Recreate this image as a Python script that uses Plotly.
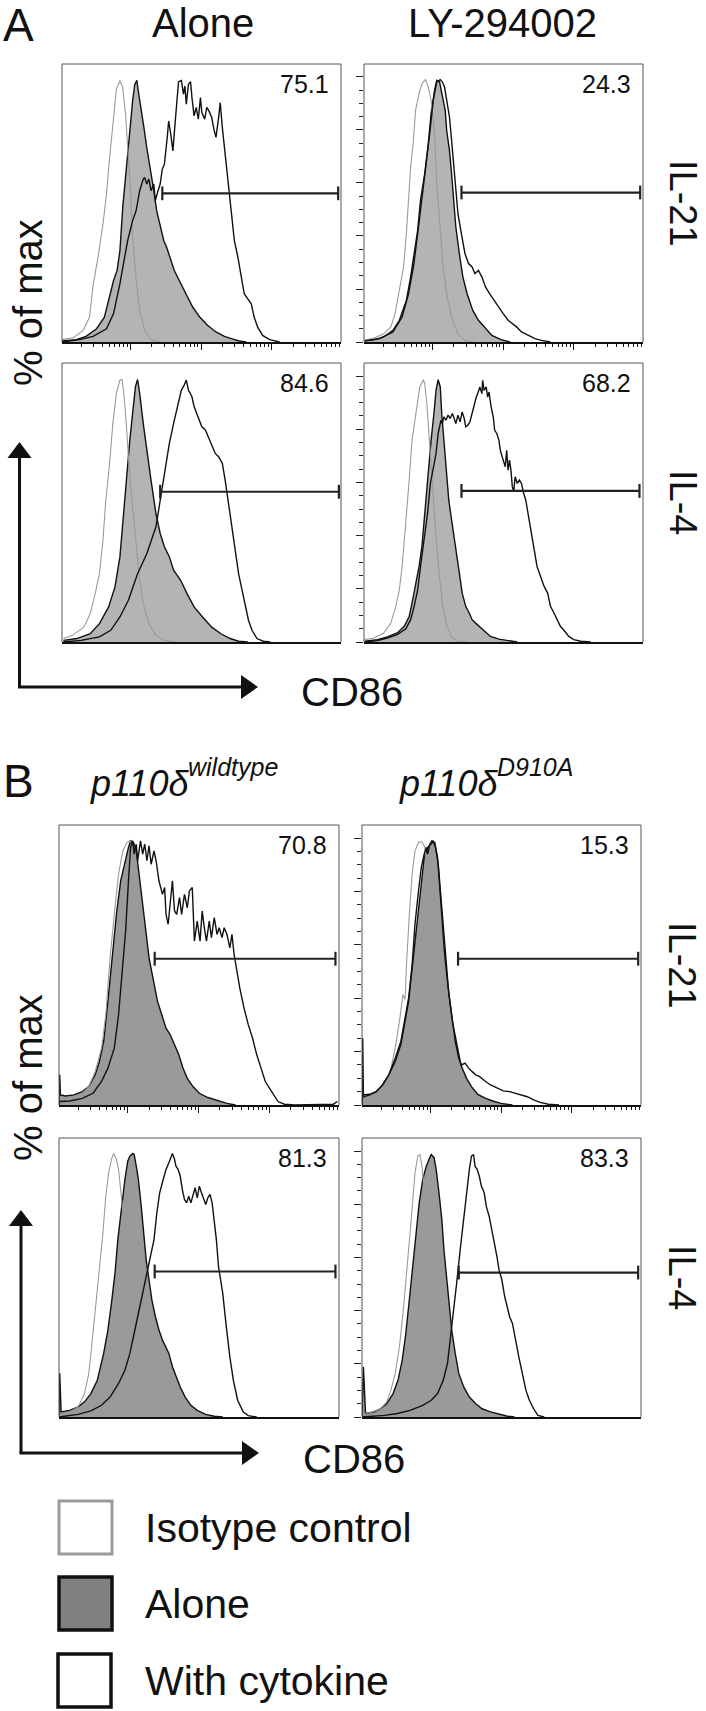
import plotly.graph_objects as go

W, H = 706, 1711

# ---------------- data: x = log10(CD86 intensity), y = % of max ----------------
# Panel A, IL-21, Alone
a1_iso_x = [1.03,1.19,1.33,1.42,1.47,1.54,1.61,1.66,1.70,1.75,1.80,1.85,1.89,1.93,1.96,2.00,2.03,2.08,2.13,2.20,2.29,2.41]
a1_iso_y = [0.9,1.6,4.4,9.4,21.3,32.0,44.5,55.8,68.4,83.4,95.4,98.7,96.0,85.9,73.4,57.1,39.5,23.2,11.9,4.4,0.9,0]
a1_alone_x = [1.03,1.23,1.37,1.52,1.63,1.70,1.76,1.81,1.85,1.89,1.93,1.96,2.00,2.03,2.06,2.09,2.11,2.15,2.19,2.23,2.28,2.33,2.37,2.42,2.47,2.51,2.56,2.62,2.69,2.79,2.88,2.98,3.09,3.21,3.33,3.45,3.54,3.64]
a1_alone_y = [0.4,0.9,2.1,5.0,9.4,16.9,23.2,27.0,34.5,50.8,62.1,72.1,82.2,91.0,97.2,98.7,94.7,88.5,80.9,73.4,65.9,57.1,49.6,43.3,38.3,35.8,32.0,27.0,23.2,17.6,13.2,9.4,6.3,3.8,2.1,1.1,0.4,0]
a1_cyt_x = [1.03,1.28,1.47,1.66,1.76,1.81,1.85,1.90,1.96,2.03,2.08,2.13,2.18,2.20,2.23,2.26,2.29,2.33,2.35,2.39,2.42,2.45,2.48,2.52,2.54,2.57,2.60,2.63,2.66,2.68,2.72,2.75,2.77,2.79,2.82,2.85,2.87,2.90,2.93,2.96,2.99,3.01,3.05,3.08,3.11,3.15,3.18,3.21,3.25,3.27,3.30,3.33,3.36,3.40,3.43,3.47,3.52,3.57,3.61,3.66,3.71,3.75,3.80,3.87,3.97,4.11]
a1_cyt_y = [0,0.9,2.1,5.0,10.7,16.3,22.0,29.5,38.3,45.8,49.6,57.1,61.5,62.1,59.6,61.5,57.1,59.6,53.3,57.1,59.6,65.2,67.1,77.2,83.4,78.4,72.1,82.2,92.2,98.2,98.7,93.5,96.6,89.7,97.2,98.2,92.2,85.3,88.5,84.1,92.2,86.6,84.1,88.5,87.2,84.7,80.3,77.2,85.3,90.3,80.9,73.4,64.6,55.8,45.8,38.3,32.0,24.5,18.2,16.3,14.4,9.4,5.6,2.5,0.9,0]

# Panel A, IL-21, LY-294002
a2_iso_x = [1.04,1.18,1.31,1.41,1.47,1.53,1.59,1.63,1.66,1.69,1.73,1.76,1.81,1.85,1.90,1.94,1.98,2.03,2.06,2.11,2.15,2.20,2.27,2.36,2.46,2.59]
a2_iso_y = [0.6,1.6,3.1,5.7,10.7,19.5,28.3,40.9,53.5,66.0,76.1,87.4,93.7,97.5,99.0,96.2,91.2,78.6,59.8,40.9,28.3,18.2,9.4,3.1,0.6,0]
a2_alone_x = [1.04,1.18,1.31,1.44,1.53,1.63,1.69,1.74,1.79,1.83,1.89,1.94,1.98,2.03,2.06,2.10,2.14,2.18,2.20,2.24,2.27,2.30,2.33,2.38,2.43,2.49,2.57,2.65,2.75,2.84,2.97,3.10]
a2_alone_y = [0.6,0.9,1.9,4.4,8.2,15.7,24.5,33.3,42.1,53.5,63.5,74.8,86.2,95.0,98.7,98.1,92.5,87.4,79.9,72.3,63.5,53.5,43.4,33.3,24.5,18.2,11.9,8.2,5.0,2.5,0.9,0]
a2_cyt_x = [1.04,1.25,1.44,1.57,1.66,1.73,1.79,1.85,1.92,1.96,2.01,2.06,2.11,2.14,2.17,2.20,2.24,2.27,2.30,2.33,2.36,2.40,2.43,2.46,2.51,2.56,2.60,2.65,2.70,2.75,2.81,2.87,2.94,3.00,3.07,3.13,3.19,3.26,3.35,3.45,3.54,3.67]
a2_cyt_y = [0.4,1.3,3.8,9.4,18.2,28.3,40.9,53.5,68.6,78.6,91.2,98.1,99.0,98.1,96.2,91.2,84.9,76.1,66.0,56.0,48.4,42.1,37.1,33.3,29.6,28.3,25.8,27.0,24.5,20.8,18.2,15.7,13.2,10.7,8.2,6.9,5.7,3.8,2.5,1.3,0.6,0]

# Panel A, IL-4, Alone
a3_iso_x = [1.05,1.18,1.34,1.43,1.50,1.56,1.61,1.65,1.70,1.75,1.80,1.85,1.88,1.91,1.94,1.97,2.02,2.07,2.12,2.18,2.26,2.36,2.48,2.64]
a3_iso_y = [1.3,2.5,5.6,10.7,18.2,25.7,38.3,53.3,65.9,82.2,93.5,98.5,98.7,92.2,82.2,69.6,53.3,38.3,25.7,14.4,6.9,2.5,0.6,0]
a3_alone_x = [1.05,1.24,1.43,1.56,1.69,1.78,1.85,1.89,1.94,1.99,2.04,2.07,2.10,2.13,2.18,2.23,2.29,2.36,2.42,2.48,2.55,2.61,2.71,2.80,2.90,3.02,3.15,3.28,3.41,3.53,3.66]
a3_alone_y = [0.6,1.3,3.1,6.9,13.2,20.7,32.0,44.5,60.9,75.9,88.5,96.0,98.7,93.5,82.2,72.1,60.9,48.3,40.8,35.8,32.0,27.0,23.2,18.2,13.2,9.4,5.6,3.1,1.3,0.3,0]
a3_cyt_x = [1.05,1.30,1.56,1.72,1.85,1.97,2.10,2.23,2.36,2.42,2.48,2.55,2.61,2.67,2.72,2.76,2.79,2.82,2.87,2.90,2.96,3.01,3.06,3.10,3.15,3.20,3.25,3.30,3.34,3.38,3.42,3.45,3.47,3.50,3.53,3.58,3.63,3.67,3.72,3.79,3.88,3.98]
a3_cyt_y = [0,0.6,1.9,4.4,9.4,15.7,25.7,33.2,43.3,53.3,63.4,74.7,82.2,89.7,94.7,96.6,98.5,94.7,92.2,88.5,84.7,80.9,79.7,77.2,74.7,70.9,69.6,67.1,60.9,53.3,45.8,40.8,35.8,30.7,25.7,19.4,13.2,8.2,4.4,1.3,0.3,0]

# Panel A, IL-4, LY-294002
a4_iso_x = [1.04,1.17,1.31,1.41,1.48,1.53,1.57,1.62,1.67,1.71,1.78,1.82,1.87,1.89,1.92,1.95,1.98,2.02,2.06,2.10,2.14,2.19,2.26,2.35,2.49]
a4_iso_y = [0.9,1.5,3.4,7.1,13.4,19.6,28.4,43.4,60.9,75.9,88.4,95.9,98.6,97.1,89.6,78.4,64.6,49.6,35.9,24.6,14.6,7.1,2.1,0.3,0]
a4_alone_x = [1.04,1.22,1.36,1.50,1.60,1.67,1.71,1.76,1.81,1.85,1.88,1.92,1.95,1.98,2.02,2.05,2.08,2.11,2.13,2.16,2.20,2.23,2.27,2.30,2.34,2.38,2.42,2.47,2.52,2.56,2.61,2.66,2.73,2.82,2.94,3.06,3.20]
a4_alone_y = [0.3,0.9,1.9,3.4,5.9,9.6,14.6,20.9,28.4,35.9,45.9,55.9,65.9,75.9,85.9,94.6,98.6,95.9,85.9,75.9,63.4,53.4,45.9,40.9,33.4,25.9,18.4,13.4,10.9,8.4,7.1,5.9,4.0,2.1,1.1,0.5,0]
a4_cyt_x = [1.04,1.22,1.36,1.50,1.62,1.69,1.74,1.79,1.83,1.88,1.93,1.97,2.02,2.05,2.08,2.12,2.14,2.16,2.19,2.22,2.25,2.28,2.30,2.33,2.36,2.39,2.42,2.45,2.47,2.50,2.53,2.56,2.59,2.62,2.64,2.67,2.70,2.71,2.73,2.76,2.78,2.80,2.83,2.86,2.88,2.91,2.94,2.96,3.00,3.03,3.05,3.07,3.09,3.11,3.13,3.15,3.17,3.20,3.23,3.26,3.29,3.32,3.36,3.40,3.44,3.48,3.53,3.58,3.63,3.67,3.72,3.77,3.81,3.86,3.93,4.00,4.10,4.24]
a4_cyt_y = [0,0.5,1.5,2.8,4.9,8.4,13.4,19.6,28.4,38.4,48.4,59.6,65.9,70.9,78.4,83.4,82.1,84.6,83.4,85.3,84.0,85.9,84.6,82.1,85.3,82.8,86.5,84.0,80.9,81.5,82.8,85.9,89.6,92.1,93.4,95.9,93.4,98.4,94.6,95.9,92.1,94.0,88.4,84.6,79.6,78.4,75.9,72.1,68.4,65.9,72.1,64.6,68.4,64.6,58.4,56.5,62.1,59.6,60.9,59.6,55.9,53.4,47.1,40.9,33.4,28.4,24.6,20.9,18.4,13.4,10.9,8.4,5.9,4.4,2.1,0.9,0.3,0]

# Panel B, IL-21, p110d wildtype
b1_iso_x = [1.04,1.12,1.24,1.36,1.45,1.54,1.63,1.69,1.75,1.81,1.87,1.93,1.99,2.03,2.07,2.11,2.15,2.20,2.25,2.30,2.34,2.39,2.45,2.53,2.65,2.80]
b1_iso_y = [2.5,2.8,3.1,4.4,6.9,12.5,21.3,33.8,55.1,71.4,86.5,95.2,98.4,99.0,97.7,90.2,80.2,67.7,52.6,37.6,23.8,13.8,6.3,1.9,0.3,0]
b1_alone_x = [1.03,1.04,1.05,1.12,1.24,1.36,1.45,1.54,1.60,1.66,1.72,1.78,1.84,1.90,1.96,2.01,2.04,2.08,2.12,2.15,2.20,2.25,2.30,2.36,2.42,2.48,2.54,2.60,2.66,2.72,2.78,2.84,2.92,3.01,3.13,3.28,3.40,3.52]
b1_alone_y = [0,11.3,3.8,3.4,3.8,5.0,6.9,11.3,16.3,23.8,38.8,56.4,71.4,84.0,91.5,96.5,99.0,98.4,95.2,89.0,78.9,66.4,55.1,46.4,38.8,33.8,28.8,26.3,22.6,18.8,13.8,10.0,6.9,4.4,2.8,1.5,0.6,0]
b1_cyt_x = [1.03,1.04,1.18,1.36,1.51,1.63,1.72,1.81,1.87,1.93,1.97,2.01,2.04,2.07,2.09,2.12,2.14,2.18,2.21,2.24,2.27,2.30,2.33,2.37,2.40,2.44,2.49,2.52,2.54,2.57,2.60,2.63,2.66,2.69,2.73,2.76,2.80,2.84,2.87,2.91,2.94,2.98,3.02,3.05,3.08,3.11,3.15,3.18,3.22,3.26,3.29,3.33,3.36,3.40,3.44,3.47,3.50,3.53,3.58,3.64,3.70,3.76,3.82,3.88,3.94,4.03,4.12,4.21,4.36,4.90,4.96]
b1_cyt_y = [0,1.3,1.5,2.5,4.4,8.8,13.8,21.3,33.8,52.6,65.2,84.0,96.5,99.0,94.0,97.7,91.5,99.0,94.0,97.7,91.5,97.1,90.2,95.2,91.5,84.0,78.9,81.5,71.4,67.7,76.4,84.0,72.7,71.4,77.7,71.4,78.9,73.9,80.2,81.5,61.4,68.9,61.4,72.7,66.4,61.4,68.9,62.7,70.2,63.9,66.4,62.7,66.4,63.9,58.9,63.9,56.4,51.4,43.9,36.3,30.1,25.1,18.8,13.8,8.8,5.0,1.3,0.3,0,0.3,1.3]

# Panel B, IL-21, p110d D910A
b2_iso_x = [1.05,1.17,1.29,1.38,1.44,1.50,1.56,1.61,1.64,1.66,1.70,1.74,1.78,1.83,1.88,1.92,1.95,2.00,2.05,2.10,2.14,2.19,2.25,2.32,2.43,2.55]
b2_iso_y = [1.3,2.5,5.0,8.8,13.8,21.3,31.3,41.4,39.5,52.6,71.4,86.5,95.2,98.4,98.6,96.5,90.2,77.7,61.4,43.9,28.8,17.5,8.8,3.1,0.6,0]
b2_alone_x = [1.03,1.04,1.05,1.14,1.23,1.32,1.41,1.50,1.58,1.64,1.69,1.72,1.77,1.82,1.87,1.91,1.96,2.00,2.04,2.07,2.11,2.14,2.18,2.22,2.26,2.31,2.37,2.43,2.51,2.58,2.67,2.78,2.88,3.00,3.16]
b2_alone_y = [0,25.1,3.1,3.8,5.0,7.5,11.3,16.3,22.6,31.3,38.8,46.4,58.9,71.4,84.0,92.7,96.5,97.7,98.7,96.5,90.2,80.2,67.7,53.9,41.4,31.3,22.6,15.0,10.0,6.9,4.0,2.5,1.5,0.6,0]
b2_cyt_x = [1.03,1.04,1.14,1.23,1.32,1.41,1.50,1.58,1.64,1.69,1.74,1.78,1.83,1.87,1.91,1.94,1.96,1.99,2.02,2.06,2.10,2.13,2.17,2.20,2.25,2.30,2.35,2.40,2.44,2.49,2.54,2.59,2.64,2.69,2.73,2.78,2.85,2.94,3.03,3.12,3.21,3.27,3.37,3.46,3.55,3.67,3.82]
b2_cyt_y = [0,3.8,4.0,5.0,7.5,11.3,17.5,23.8,32.6,40.1,52.6,67.7,80.2,89.0,94.0,96.5,94.0,97.7,99.0,98.4,92.7,81.5,68.9,56.4,43.9,33.8,23.8,17.5,15.0,15.7,13.8,12.5,11.3,10.7,10.0,8.8,7.5,6.3,5.3,5.0,4.4,3.8,3.1,1.9,1.0,0.3,0]

# Panel B, IL-4, p110d wildtype
b3_iso_x = [1.03,1.06,1.18,1.30,1.39,1.45,1.49,1.54,1.60,1.65,1.69,1.73,1.77,1.80,1.84,1.87,1.90,1.94,1.97,2.01,2.04,2.09,2.15,2.23,2.32,2.44,2.56]
b3_iso_y = [0,1.3,1.9,3.8,8.8,16.4,26.4,39.0,54.1,69.2,83.0,91.8,96.9,99.1,96.9,93.1,85.5,74.2,61.6,49.1,36.5,23.9,13.8,6.3,1.9,0.3,0]
b3_alone_x = [1.03,1.04,1.06,1.18,1.30,1.39,1.48,1.57,1.66,1.72,1.77,1.82,1.86,1.91,1.96,2.00,2.03,2.07,2.09,2.12,2.15,2.19,2.22,2.26,2.30,2.34,2.39,2.44,2.49,2.54,2.58,2.63,2.68,2.74,2.81,2.89,2.98,3.10,3.22,3.34]
b3_alone_y = [0,16.4,1.9,2.5,3.8,5.7,8.8,13.8,23.9,32.7,42.8,54.1,66.7,79.2,89.3,96.2,98.1,99.1,98.7,94.3,89.3,79.2,69.2,59.1,51.6,44.0,37.7,32.7,28.9,26.4,23.9,18.9,15.1,11.3,7.5,4.4,2.5,1.0,0.3,0]
b3_cyt_x = [1.03,1.12,1.30,1.48,1.63,1.75,1.87,1.96,2.03,2.09,2.15,2.20,2.25,2.30,2.33,2.37,2.41,2.45,2.50,2.54,2.58,2.61,2.63,2.66,2.68,2.71,2.74,2.77,2.80,2.83,2.86,2.89,2.92,2.95,2.98,3.01,3.04,3.07,3.10,3.13,3.16,3.19,3.22,3.25,3.28,3.31,3.34,3.39,3.44,3.49,3.55,3.63,3.70,3.82]
b3_cyt_y = [0,0.3,1.0,2.3,4.4,7.5,12.6,17.6,23.9,31.4,39.0,45.3,51.6,59.1,61.6,66.7,76.7,84.3,89.3,93.1,95.6,98.1,99.1,96.9,94.3,93.1,90.6,85.5,81.8,80.5,83.0,80.5,83.7,86.2,82.4,86.8,84.3,81.8,79.9,82.4,83.7,80.5,74.2,66.7,56.6,51.6,46.5,34.0,22.6,13.8,6.3,1.9,0.5,0]

# Panel B, IL-4, p110d D910A
b4_iso_x = [1.03,1.08,1.17,1.29,1.38,1.44,1.50,1.56,1.62,1.66,1.71,1.75,1.78,1.82,1.85,1.88,1.92,1.96,2.01,2.06,2.11,2.16,2.22,2.31,2.43,2.55]
b4_iso_y = [0,1.3,1.9,3.1,5.7,10.1,16.4,26.4,41.5,55.3,69.2,81.8,91.8,98.1,98.7,94.3,83.0,69.2,54.1,39.0,26.4,16.4,8.8,3.8,1.0,0]
b4_alone_x = [1.03,1.05,1.08,1.20,1.29,1.38,1.47,1.54,1.60,1.65,1.70,1.75,1.79,1.84,1.89,1.94,1.98,2.01,2.05,2.08,2.12,2.16,2.19,2.23,2.26,2.30,2.35,2.40,2.47,2.55,2.64,2.73,2.85,2.97,3.09,3.19]
b4_alone_y = [0,18.9,1.3,1.9,3.1,5.0,8.8,13.8,21.4,31.4,44.0,56.6,69.2,80.5,89.3,94.3,96.9,98.7,97.5,93.1,84.3,74.2,62.9,51.6,41.5,32.7,23.9,16.4,11.3,7.5,5.0,3.1,1.9,1.0,0.3,0]
b4_cyt_x = [1.03,1.17,1.35,1.53,1.71,1.89,2.01,2.10,2.18,2.24,2.28,2.32,2.37,2.42,2.47,2.52,2.55,2.58,2.61,2.63,2.66,2.69,2.72,2.76,2.79,2.83,2.87,2.90,2.94,2.97,3.01,3.05,3.08,3.12,3.16,3.20,3.25,3.30,3.35,3.40,3.46,3.52,3.61]
b4_cyt_y = [0,0.3,0.6,1.3,2.5,4.4,6.3,8.8,13.8,20.1,28.9,39.0,50.3,62.9,75.5,85.5,93.1,98.1,98.7,94.3,93.1,90.6,86.8,84.3,79.2,75.5,70.4,65.4,60.4,55.3,51.6,45.3,41.5,37.7,35.2,28.9,22.6,16.4,10.1,6.3,3.1,0.6,0]

# gate (CD86+ marker) and percentages
panel_ids = ["a1", "a2", "a3", "a4", "b1", "b2", "b3", "b4"]
pct_labels = ["75.1", "24.3", "84.6", "68.2", "70.8", "15.3", "81.3", "83.3"]
gate_lo = [2.45, 2.41, 2.42, 2.41, 2.38, 2.39, 2.38, 2.40]
gate_hi = [4.94, 4.94, 4.95, 4.93, 4.93, 4.94, 4.93, 4.94]
gate_y = [56.1, 56.4, 56.5, 56.8, 54.8, 54.8, 54.7, 54.3]

col_titles_a = ["Alone", "LY-294002"]
col_titles_b = ["p110δ", "p110δ"]
col_sup_b = ["wildtype", "D910A"]
row_titles = ["IL-21", "IL-4"]
legend_labels = ["Isotype control", "Alone", "With cytokine"]
major_x = [2, 3, 4]
minor_x = [1.301, 1.477, 1.602, 1.699, 1.778, 1.845, 1.903, 1.954,
           2.301, 2.477, 2.602, 2.699, 2.778, 2.845, 2.903, 2.954,
           3.301, 3.477, 3.602, 3.699, 3.778, 3.845, 3.903, 3.954,
           4.301, 4.477, 4.602, 4.699, 4.778, 4.845, 4.903, 4.954]
major_y = [0, 20, 40, 60, 80, 100]
minor_y = [5, 10, 15, 25, 30, 35, 45, 50, 55, 65, 70, 75, 85, 90, 95]

data = {
    "a1": (a1_iso_x, a1_iso_y, a1_alone_x, a1_alone_y, a1_cyt_x, a1_cyt_y),
    "a2": (a2_iso_x, a2_iso_y, a2_alone_x, a2_alone_y, a2_cyt_x, a2_cyt_y),
    "a3": (a3_iso_x, a3_iso_y, a3_alone_x, a3_alone_y, a3_cyt_x, a3_cyt_y),
    "a4": (a4_iso_x, a4_iso_y, a4_alone_x, a4_alone_y, a4_cyt_x, a4_cyt_y),
    "b1": (b1_iso_x, b1_iso_y, b1_alone_x, b1_alone_y, b1_cyt_x, b1_cyt_y),
    "b2": (b2_iso_x, b2_iso_y, b2_alone_x, b2_alone_y, b2_cyt_x, b2_cyt_y),
    "b3": (b3_iso_x, b3_iso_y, b3_alone_x, b3_alone_y, b3_cyt_x, b3_cyt_y),
    "b4": (b4_iso_x, b4_iso_y, b4_alone_x, b4_alone_y, b4_cyt_x, b4_cyt_y),
}

# ---------------- layout geometry (pixels) ----------------
FONT = "Liberation Sans, Arial, Helvetica, sans-serif"
boxes = {  # x0, x1, y0(top), y1(bottom)
    "a1": (62, 341, 64, 342), "a2": (364, 643, 64, 342),
    "a3": (62, 341, 363, 642), "a4": (364, 643, 363, 642),
    "b1": (59, 339, 825, 1105), "b2": (362, 641, 825, 1105),
    "b3": (59, 339, 1138, 1417), "b4": (362, 641, 1138, 1417),
}
XR = [1.03, 4.98]
YR = [0, 104.9]


def px(x):
    return x / W


def py(y):
    return 1 - y / H


def pair(xs, ys):
    n = min(len(xs), len(ys))
    return list(xs[:n]), list(ys[:n])


fig = go.Figure()
shapes = []
annotations = []

for i, pid in enumerate(panel_ids):
    k = i + 1
    xa, ya = f"x{k}", f"y{k}"
    x0, x1, y0, y1 = boxes[pid]
    iso_x, iso_y, al_x, al_y, cy_x, cy_y = data[pid]
    fillc = "#b4b4b4" if pid.startswith("a") else "#9a9a9a"

    ax_, ay_ = pair(al_x, al_y)
    fig.add_trace(go.Scatter(x=ax_, y=ay_, mode="lines", fill="tozeroy", fillcolor=fillc,
                             line=dict(color="#111111", width=1.4), xaxis=xa, yaxis=ya,
                             showlegend=False, hoverinfo="skip"))
    ix_, iy_ = pair(iso_x, iso_y)
    fig.add_trace(go.Scatter(x=ix_, y=iy_, mode="lines",
                             line=dict(color="#9a9a9a", width=1.1), xaxis=xa, yaxis=ya,
                             showlegend=False, hoverinfo="skip"))
    cx_, cy2 = pair(cy_x, cy_y)
    fig.add_trace(go.Scatter(x=cx_, y=cy2, mode="lines",
                             line=dict(color="#111111", width=1.4), xaxis=xa, yaxis=ya,
                             showlegend=False, hoverinfo="skip"))
    # gate marker
    g0, g1, gy = gate_lo[i], gate_hi[i], gate_y[i]
    cap = 2.6
    fig.add_trace(go.Scatter(x=[g0, g0, None, g0, g1, None, g1, g1],
                             y=[gy - cap, gy + cap, None, gy, gy, None, gy - cap, gy + cap],
                             mode="lines", line=dict(color="#222222", width=2.2),
                             xaxis=xa, yaxis=ya, showlegend=False, hoverinfo="skip"))

    top_row = pid in ("a1", "a2", "b1", "b2")
    right_col = pid in ("a2", "a4", "b2", "b4")
    xkw = dict(domain=[px(x0), px(x1)], range=XR, anchor=ya, showgrid=False, zeroline=False,
               showline=True, linecolor="#111111", linewidth=1.6, showticklabels=False,
               fixedrange=True)
    if top_row:
        xkw.update(ticks="outside", tickvals=major_x, ticklen=6, tickwidth=1.2, tickcolor="#111111",
                   minor=dict(tickvals=minor_x, ticks="outside", ticklen=3.5, tickwidth=1,
                              tickcolor="#111111", showgrid=False))
    else:
        xkw.update(ticks="")
    ykw = dict(domain=[py(y1), py(y0)], range=YR, anchor=xa, showgrid=False, zeroline=False,
               showline=False, showticklabels=False, fixedrange=True)
    if right_col:
        ykw.update(ticks="outside", tickvals=major_y, ticklen=7, tickwidth=1.2, tickcolor="#222222",
                   minor=dict(tickvals=minor_y, ticks="outside", ticklen=4, tickwidth=1,
                              tickcolor="#222222", showgrid=False))
    else:
        ykw.update(ticks="")
    fig.update_layout(**{f"xaxis{k}": xkw, f"yaxis{k}": ykw})

    # box (left, top, right sides)
    shapes.append(dict(type="path", xref="paper", yref="paper",
                       path=f"M {px(x0)},{py(y1)} L {px(x0)},{py(y0)} L {px(x1)},{py(y0)} L {px(x1)},{py(y1)}",
                       line=dict(color="#555555", width=1)))
    annotations.append(dict(x=px(x1 - 10), y=py(y0 + 20), xref="paper", yref="paper",
                            text=pct_labels[i], showarrow=False, xanchor="right", yanchor="middle",
                            font=dict(size=25, color="#111111", family=FONT)))


def text(x, y, t, size, anchor="center", angle=0, style="normal"):
    annotations.append(dict(x=px(x), y=py(y), xref="paper", yref="paper", text=t, showarrow=False,
                            xanchor=anchor, yanchor="middle", textangle=angle,
                            font=dict(size=size, color="#111111", family=FONT, style=style)))


# Panel letters and column titles
text(18, 25, "A", 46)
text(203, 23, col_titles_a[0], 40)
text(502, 23, col_titles_a[1], 40)
text(18, 781, "B", 46)
text(88, 783, col_titles_b[0], 36, anchor="left", style="italic")
text(186, 767, col_sup_b[0], 25, anchor="left", style="italic")
text(397, 783, col_titles_b[1], 36, anchor="left", style="italic")
text(495, 767, col_sup_b[1], 25, anchor="left", style="italic")

# row titles
text(683, 203, row_titles[0], 38, angle=90)
text(683, 502, row_titles[1], 38, angle=90)
text(682, 965, row_titles[0], 38, angle=90)
text(682, 1277, row_titles[1], 38, angle=90)

# "% of max" and CD86
text(28, 303, "% of max", 40, angle=-90)
text(28, 1078, "% of max", 40, angle=-90)
text(352, 692, "CD86", 40)
text(354, 1459, "CD86", 40)


def arrow_axes(xv, ybase, ytip, xtip):
    shapes.append(dict(type="line", xref="paper", yref="paper", x0=px(xv), y0=py(ybase),
                       x1=px(xv), y1=py(ytip + 12), line=dict(color="#111111", width=3)))
    shapes.append(dict(type="line", xref="paper", yref="paper", x0=px(xv - 1.5), y0=py(ybase),
                       x1=px(xtip - 12), y1=py(ybase), line=dict(color="#111111", width=3)))
    shapes.append(dict(type="path", xref="paper", yref="paper",
                       path=f"M {px(xv)},{py(ytip)} L {px(xv - 12)},{py(ytip + 16)} L {px(xv + 12)},{py(ytip + 16)} Z",
                       fillcolor="#111111", line=dict(width=0)))
    shapes.append(dict(type="path", xref="paper", yref="paper",
                       path=f"M {px(xtip)},{py(ybase)} L {px(xtip - 17)},{py(ybase - 12)} L {px(xtip - 17)},{py(ybase + 12)} Z",
                       fillcolor="#111111", line=dict(width=0)))


arrow_axes(19.5, 687, 442, 258)
arrow_axes(21, 1453, 1210, 259)

# legend
leg_boxes = [(59, 112, 1501, 1554, "#9a9a9a", "white", 3),
             (59, 112, 1577, 1630, "#111111", "#808080", 3.5),
             (58, 111, 1654, 1707, "#111111", "white", 3.5)]
leg_y = [1528, 1604, 1681]
for (bx0, bx1, by0, by1, lc, fc, lw), ty, lab in zip(leg_boxes, leg_y, legend_labels):
    shapes.append(dict(type="rect", xref="paper", yref="paper", x0=px(bx0), x1=px(bx1),
                       y0=py(by1), y1=py(by0), line=dict(color=lc, width=lw), fillcolor=fc))
    text(143, ty, lab, 41, anchor="left")

fig.update_layout(width=W, height=H, margin=dict(l=0, r=0, t=0, b=0),
                  paper_bgcolor="white", plot_bgcolor="white", showlegend=False,
                  shapes=shapes, annotations=annotations,
                  font=dict(family=FONT, color="#111111"))

fig.write_html("out.html", config={"displayModeBar": False},
               post_script="document.body.style.margin='0px';")
